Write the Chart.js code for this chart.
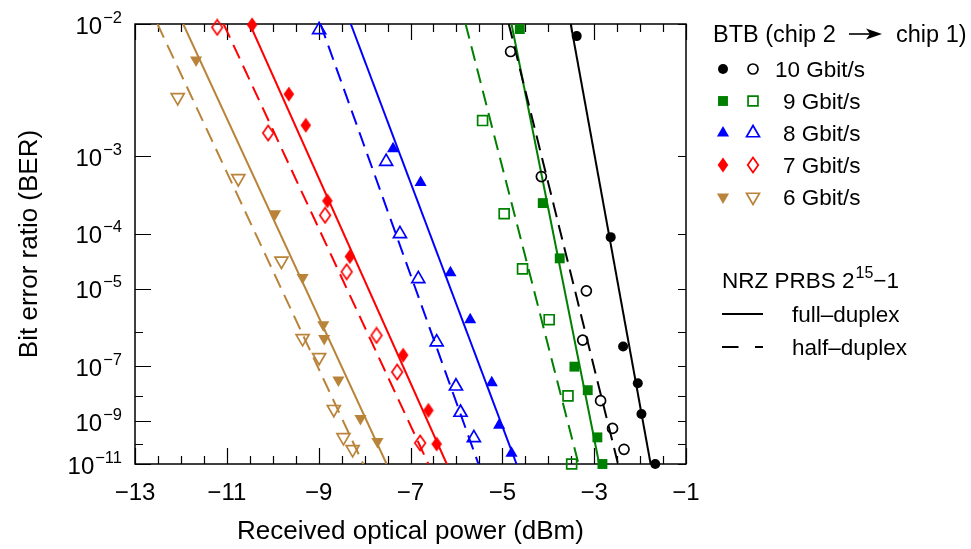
<!DOCTYPE html>
<html>
<head>
<meta charset="utf-8">
<script src="https://cdn.jsdelivr.net/npm/chart.js@4"></script>
<style>
html,body{margin:0;padding:0;background:#fff;}
#wrap{width:971px;height:549px;}
</style>
</head>
<body>
<div id="wrap"><canvas id="c" width="971" height="549"></canvas></div>
<script>
// ---------------- data ----------------
const RATE_LABELS = ['10 Gbit/s', '9 Gbit/s', '8 Gbit/s', '7 Gbit/s', '6 Gbit/s'];

// full-duplex (filled markers) and half-duplex (open markers): power (dBm) and BER
const full10_x   = [-3.38, -2.64, -2.37, -2.05, -1.97, -1.67];
const full10_ber = [8.6e-3, 8.9e-5, 3.9e-7, 2.8e-8, 2.0e-9, 1.0e-11];
const half10_x   = [-4.82, -4.15, -3.17, -3.25, -2.86, -2.60, -2.35];
const half10_ber = [7.0e-3, 6.0e-4, 9.1e-6, 5.9e-7, 6.6e-9, 5.0e-10, 5.5e-11];

const full9_x   = [-4.62, -4.12, -3.75, -3.43, -3.14, -2.93, -2.82];
const full9_ber = [9.4e-3, 2.8e-4, 3.9e-5, 9.8e-8, 1.6e-8, 2.0e-10, 1.0e-11];
const half9_x   = [-5.43, -4.96, -4.56, -3.98, -3.57, -3.49];
const half9_ber = [2.2e-3, 2.0e-4, 2.5e-5, 2.0e-6, 1.0e-8, 1.0e-11];

const full8_x   = [-7.38, -6.78, -6.13, -5.70, -5.23, -5.07, -4.80];
const full8_ber = [1.2e-3, 5.1e-4, 2.1e-5, 2.0e-6, 2.9e-8, 6.8e-10, 3.5e-11];
const half8_x   = [-8.99, -7.53, -7.23, -6.83, -6.43, -6.01, -5.91, -5.62];
const half8_ber = [9.3e-3, 8.8e-4, 1.0e-4, 1.6e-5, 5.2e-7, 2.2e-8, 2.3e-9, 1.9e-10];

const full7_x   = [-10.45, -9.65, -9.28, -8.81, -8.32, -7.16, -6.61, -6.43];
const full7_ber = [9.9e-3, 3.6e-3, 2.0e-3, 3.0e-4, 4.2e-5, 2.2e-7, 2.8e-9, 9.8e-11];
const half7_x   = [-11.21, -10.10, -8.86, -8.39, -7.74, -7.29, -6.79];
const half7_ber = [9.6e-3, 1.7e-3, 1.9e-4, 2.2e-5, 7.9e-7, 6.6e-8, 1.1e-10];

const full6_x   = [-11.67, -9.95, -9.35, -8.90, -8.88, -8.57, -8.09, -7.72];
const full6_ber = [6.2e-3, 2.0e-4, 1.7e-5, 1.5e-6, 6.5e-7, 3.6e-8, 1.3e-9, 1.3e-10];
const half6_x   = [-12.07, -10.75, -9.81, -9.35, -8.99, -8.67, -8.46, -8.26];
const half6_ber = [3.4e-3, 5.7e-4, 3.5e-5, 6.6e-7, 1.9e-7, 3.1e-9, 2.0e-10, 5.5e-11];

// fitted lines: power at BER = 1e-2 and at BER = 1e-11
const fit_ber      = [1e-2, 1e-11];
const fitFull10_x  = [-3.51, -1.77];
const fitHalf10_x  = [-4.86, -2.48];
const fitFull9_x   = [-4.80, -2.89];
const fitHalf9_x   = [-5.80, -3.34];
const fitFull8_x   = [-8.30, -4.69];
const fitHalf8_x   = [-8.96, -5.52];
const fitFull7_x   = [-10.50, -6.21];
const fitHalf7_x   = [-11.07, -6.61];
const fitFull6_x   = [-11.95, -7.52];
const fitHalf6_x   = [-12.51, -8.03];

// axes
const X_MIN = -13, X_MAX = -1;
const BER_MIN = 1e-11, BER_MAX = 1e-2;
const BER_TICKS = [1e-2, 1e-3, 1e-4, 1e-5, 1e-6, 1e-7, 1e-8, 1e-9, 1e-10, 1e-11];
const BER_LABELED_EXP = [-2, -3, -4, -5, -7, -9, -11];

// ---------------- styles ----------------
const COLORS = ['#000000', '#008000', '#0000ff', '#ff0000', '#b9843a'];
const FONT = '"Liberation Sans", Arial, Helvetica, sans-serif';

function diamondCanvas(color, filled) {
  const c = document.createElement('canvas');
  c.width = 14; c.height = 18;
  const g = c.getContext('2d');
  g.beginPath();
  g.moveTo(7, 1.5); g.lineTo(12.3, 9); g.lineTo(7, 16.5); g.lineTo(1.7, 9); g.closePath();
  if (filled) { g.fillStyle = color; g.fill(); }
  else { g.strokeStyle = color; g.lineWidth = 1.7; g.stroke(); }
  return c;
}

const MARKERS = [
  { style: 'circle', rot: 0, rFull: 5, rHalf: 5 },
  { style: 'rect', rot: 0, rFull: 7, rHalf: 7 },
  { style: 'triangle', rot: 0, rFull: 7, rHalf: 7.5 },
  { style: 'diamond', rot: 0, rFull: 7, rHalf: 7 },
  { style: 'triangle', rot: 180, rFull: 7, rHalf: 7.5 }
];

// ---------------- BER (Q-like) scale ----------------
function berT(v) { return Math.log10(-Math.log10(v) - 1); }
function berInv(t) { return Math.pow(10, -(1 + Math.pow(10, t))); }

class BerScale extends Chart.Scale {
  determineDataLimits() {
    this.min = this.options.min;
    this.max = this.options.max;
  }
  buildTicks() {
    return BER_TICKS.map(v => ({ value: v }));
  }
  configure() {
    super.configure();
    this._tMin = berT(this.min);
    this._tMax = berT(this.max);
  }
  getLabelForValue(v) { return v.toExponential(1); }
  getPixelForValue(v) {
    return this.getPixelForDecimal((berT(v) - this._tMin) / (this._tMax - this._tMin));
  }
  getValueForPixel(p) {
    const d = this.getDecimalForPixel(p);
    return berInv(this._tMin + d * (this._tMax - this._tMin));
  }
}
BerScale.id = 'ber';
BerScale.defaults = {};
Chart.register(BerScale);

// ---------------- datasets ----------------
function pts(xs, ys) { return xs.map((x, i) => ({ x: x, y: ys[i] })); }

const markerSets = [
  [full10_x, full10_ber, half10_x, half10_ber],
  [full9_x, full9_ber, half9_x, half9_ber],
  [full8_x, full8_ber, half8_x, half8_ber],
  [full7_x, full7_ber, half7_x, half7_ber],
  [full6_x, full6_ber, half6_x, half6_ber]
];
const fitSets = [
  [fitFull10_x, fitHalf10_x],
  [fitFull9_x, fitHalf9_x],
  [fitFull8_x, fitHalf8_x],
  [fitFull7_x, fitHalf7_x],
  [fitFull6_x, fitHalf6_x]
];
const DASH = [15, 8];

function markerProps(i, filled) {
  const m = MARKERS[i];
  const col = COLORS[i];
  if (m.style === 'diamond') {
    return { pointStyle: diamondCanvas(col, filled), pointRadius: 7, pointRotation: 0,
             pointBackgroundColor: col, pointBorderColor: col, pointBorderWidth: 0 };
  }
  return {
    pointStyle: m.style,
    pointRotation: m.rot,
    pointRadius: filled ? m.rFull : m.rHalf,
    pointBackgroundColor: filled ? col : 'rgba(0,0,0,0)',
    pointBorderColor: col,
    pointBorderWidth: filled ? 0 : 1.7
  };
}

const datasets = [];
fitSets.forEach((f, i) => {
  datasets.push({ label: RATE_LABELS[i] + ' full fit', data: pts(f[0], fit_ber), showLine: true,
    borderColor: COLORS[i], borderWidth: 2, pointRadius: 0, order: 2 });
  datasets.push({ label: RATE_LABELS[i] + ' half fit', data: pts(f[1], fit_ber), showLine: true,
    borderColor: COLORS[i], borderWidth: 2, borderDash: DASH, pointRadius: 0, order: 2 });
});
markerSets.forEach((s, i) => {
  datasets.push(Object.assign({ label: RATE_LABELS[i] + ' full-duplex', data: pts(s[0], s[1]),
    showLine: false, clip: false, order: 1 }, markerProps(i, true)));
  datasets.push(Object.assign({ label: RATE_LABELS[i] + ' half-duplex', data: pts(s[2], s[3]),
    showLine: false, clip: false, order: 1 }, markerProps(i, false)));
});

// ---------------- helpers ----------------
function minus(v) { return v < 0 ? '\u2212' + Math.abs(v) : String(v); }
function expOf(v) { return Math.round(Math.log10(v)); }

function drawMarker(ctx, i, filled, x, y) {
  const m = MARKERS[i];
  const col = COLORS[i];
  ctx.save();
  if (m.style === 'diamond') {
    const img = diamondCanvas(col, filled);
    ctx.drawImage(img, x - img.width / 2, y - img.height / 2);
    ctx.restore();
    return;
  }
  const r = filled ? m.rFull : m.rHalf;
  ctx.fillStyle = filled ? col : 'rgba(0,0,0,0)';
  ctx.strokeStyle = col;
  ctx.lineWidth = filled ? 0 : 1.7;
  Chart.helpers.drawPoint(ctx, { pointStyle: m.style, rotation: m.rot, radius: r, borderWidth: filled ? 0 : 1.7 }, x, y);
  ctx.restore();
}

const decorations = {
  id: 'decorations',
  beforeDatasetsDraw(chart) {
    const { ctx, chartArea: a, scales } = chart;
    const xs = scales.x, ys = scales.y;
    ctx.save();
    ctx.strokeStyle = '#000';
    ctx.lineWidth = 1.5;
    ctx.strokeRect(a.left, a.top, a.right - a.left, a.bottom - a.top);
    ctx.lineWidth = 1.2;
    ctx.beginPath();
    for (let v = xs.min; v <= xs.max + 1e-9; v += 0.5) {
      const px = Math.round(xs.getPixelForValue(v)) + 0.5;
      const major = Math.abs((((v % 2) + 2) % 2) - 1) < 1e-9;
      const len = major ? 16 : 8;
      ctx.moveTo(px, a.bottom); ctx.lineTo(px, a.bottom - len);
      ctx.moveTo(px, a.top); ctx.lineTo(px, a.top + len);
    }
    ys.ticks.forEach(t => {
      const py = Math.round(ys.getPixelForValue(t.value)) + 0.5;
      const len = BER_LABELED_EXP.includes(expOf(t.value)) ? 16 : 8;
      ctx.moveTo(a.left, py); ctx.lineTo(a.left + len, py);
      ctx.moveTo(a.right, py); ctx.lineTo(a.right - 8, py);
    });
    ctx.stroke();

    // y tick labels: 10 with superscript exponent
    ctx.fillStyle = '#000';
    ctx.textAlign = 'right';
    ctx.textBaseline = 'alphabetic';
    const xr = a.left - 13;
    ys.ticks.forEach(t => {
      const e = expOf(t.value);
      if (!BER_LABELED_EXP.includes(e)) return;
      const py = ys.getPixelForValue(t.value);
      ctx.font = '16.5px ' + FONT;
      const ex = minus(e);
      ctx.fillText(ex, xr, py - 1.5);
      const w = ctx.measureText(ex).width;
      ctx.font = '24px ' + FONT;
      ctx.fillText('10', xr - w - 1, py + 9.5);
    });
    ctx.restore();
  },
  afterDraw(chart) {
    const ctx = chart.ctx;
    ctx.save();
    ctx.fillStyle = '#000';
    ctx.textAlign = 'left';
    ctx.textBaseline = 'alphabetic';
    ctx.font = '23.5px ' + FONT;
    // title: BTB (chip 2 -> chip 1)
    ctx.fillText('BTB (chip 2', 713, 42);
    ctx.fillText('chip 1)', 896, 42);
    ctx.strokeStyle = '#000';
    ctx.lineWidth = 1.6;
    ctx.beginPath(); ctx.moveTo(849, 34); ctx.lineTo(876, 34); ctx.stroke();
    ctx.beginPath(); ctx.moveTo(882, 34); ctx.lineTo(866, 28.5); ctx.lineTo(870, 34); ctx.lineTo(866, 39.5); ctx.closePath(); ctx.fill();

    RATE_LABELS.forEach((lab, i) => {
      const cy = 69 + i * 32;
      drawMarker(ctx, i, true, 723, cy);
      drawMarker(ctx, i, false, 753, cy);
      ctx.fillStyle = '#000';
      ctx.font = '22.5px ' + FONT;
      ctx.fillText(lab, i === 0 ? 775 : 783, cy + 7.5);
    });
    // line-style legend
    let x0 = 722;
    ctx.font = '22.5px ' + FONT;
    const t1 = 'NRZ PRBS 2';
    ctx.fillText(t1, x0, 288);
    x0 += ctx.measureText(t1).width + 1;
    ctx.font = '16px ' + FONT;
    ctx.fillText('15', x0, 278);
    x0 += ctx.measureText('15').width;
    ctx.font = '22.5px ' + FONT;
    ctx.fillText('\u22121', x0, 288);

    ctx.strokeStyle = '#000';
    ctx.lineWidth = 2;
    ctx.beginPath(); ctx.moveTo(722, 314); ctx.lineTo(763, 314); ctx.stroke();
    ctx.setLineDash([16.5, 16.5]);
    ctx.beginPath(); ctx.moveTo(722, 347); ctx.lineTo(763, 347); ctx.stroke();
    ctx.setLineDash([]);
    ctx.fillText('full\u2013duplex', 792, 322);
    ctx.fillText('half\u2013duplex', 792, 355);
    ctx.restore();
  }
};

new Chart(document.getElementById('c'), {
  type: 'scatter',
  data: { datasets: datasets },
  plugins: [decorations],
  options: {
    responsive: false,
    animation: false,
    events: [],
    layout: { padding: { left: 0, top: 24, right: 285, bottom: 0 } },
    plugins: { legend: { display: false }, tooltip: { enabled: false } },
    scales: {
      x: {
        type: 'linear', min: X_MIN, max: X_MAX,
        grid: { display: false, drawTicks: false },
        border: { display: false },
        ticks: { stepSize: 2, padding: 15, color: '#000', font: { family: FONT, size: 24 },
                 callback: v => minus(v), maxRotation: 0 },
        title: { display: true, text: 'Received optical power (dBm)', color: '#000',
                 font: { family: FONT, size: 26 }, padding: { top: 0, bottom: 2 } },
        afterFit: s => { s.height = 85; }
      },
      y: {
        type: 'ber', min: BER_MIN, max: BER_MAX,
        grid: { display: false, drawTicks: false },
        border: { display: false },
        ticks: { display: false, autoSkip: false },
        title: { display: true, text: 'Bit error ratio (BER)', color: '#000',
                 font: { family: FONT, size: 26 }, padding: { top: 14, bottom: 0 } },
        afterFit: s => { s.width = 135; }
      }
    }
  }
});
</script>
</body>
</html>
